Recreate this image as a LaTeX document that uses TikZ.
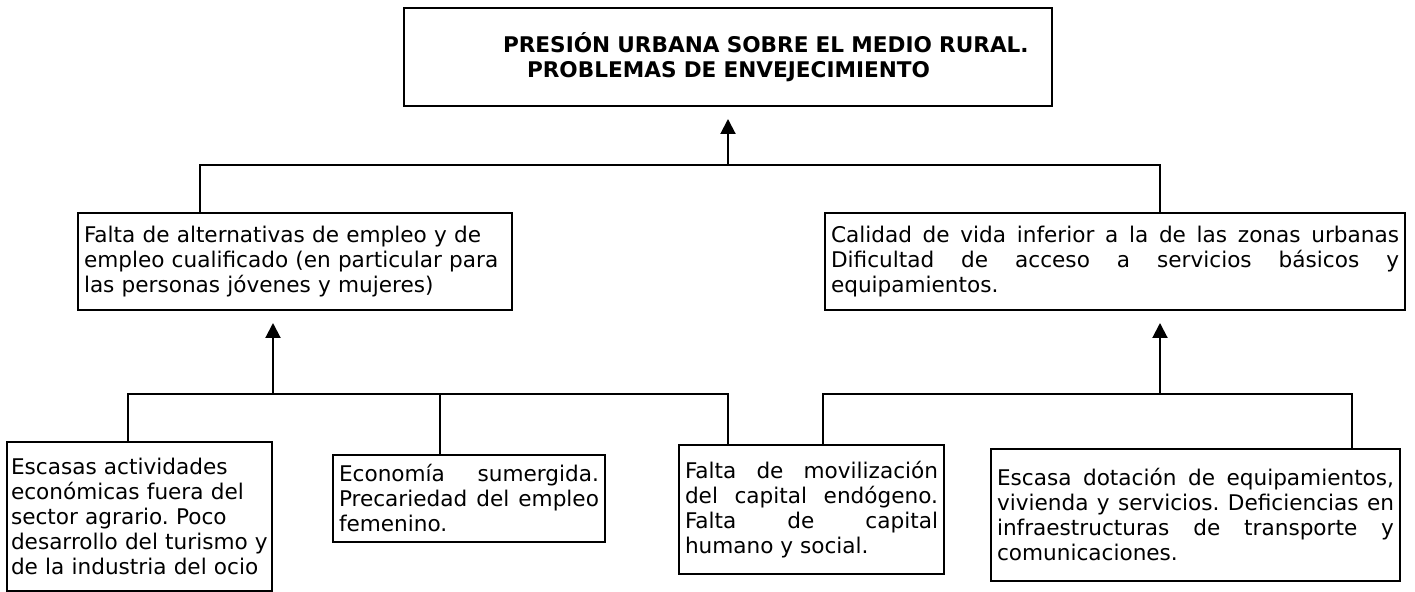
\documentclass[tikz,border=0pt]{standalone}
\usepackage{fontspec}
\setmainfont{DejaVu Sans}
\usetikzlibrary{arrows.meta}

\tikzset{
  caja/.style={draw, line width=1pt, inner xsep=3pt, inner ysep=2pt, font=\fontsize{10.8}{12.5}\selectfont\frenchspacing},
  linea/.style={line width=1pt},
  flecha/.style={line width=1pt, -{Triangle[length=7.5pt,width=7.5pt]}, shorten >=6pt}
}

\begin{document}
\begin{tikzpicture}[x=0.5pt, y=-0.5pt]
    % Parametri
    \pgfmathsetmacro{\yalto}{165}
    \pgfmathsetmacro{\ybajo}{394}
    % Marco
    \useasboundingbox (0,0) rectangle (1415,592);
    % Cajas
    \node[caja, minimum width=324pt, minimum height=49pt, text width=318pt, align=left, font=\fontsize{10.8}{12.5}\selectfont\bfseries] (titulo) at (728,57) {\hspace*{46.5pt}PRESIÓN URBANA SOBRE EL MEDIO RURAL.\\\hspace*{58.5pt}PROBLEMAS DE ENVEJECIMIENTO};
    \node[caja, text width=211pt, minimum height=48.5pt, align=left] (empleo) at (295,261.5) {Falta de alternativas de empleo y de\\empleo cualificado (en particular para\\las personas jóvenes y mujeres)};
    \node[caja, text width=284pt, minimum height=48.5pt, align=justify] (calidad) at (1115,261.5) {Calidad de vida inferior a la de las zonas urbanas\linebreak Dificultad de acceso a servicios básicos y\linebreak equipamientos.};
    \node[caja, inner xsep=2pt, text width=128.5pt, minimum height=74.5pt, align=left] (actividades) at (139.5,516.5) {Escasas actividades\\económicas fuera del\\sector agrario. Poco\\desarrollo del turismo y\\de la industria del ocio};
    \node[caja, text width=130pt, minimum height=43.5pt, align=justify] (sumergida) at (469,498.5) {Economía sumergida.\linebreak Precariedad del empleo\linebreak femenino.};
    \node[caja, text width=126.5pt, minimum height=64.5pt, align=justify] (capital) at (811.5,509.5) {Falta de movilización\linebreak del capital endógeno.\linebreak Falta de capital\linebreak humano y social.};
    \node[caja, text width=198.5pt, minimum height=66pt, align=justify] (dotacion) at (1195.5,515) {Escasa dotación de equipamientos,\linebreak vivienda y servicios. Deficiencias en\linebreak infraestructuras de transporte y\linebreak comunicaciones.};
    % Nudos
    \coordinate (nudoA) at (728,\yalto);
    \coordinate (nudoA1) at (200,\yalto);
    \coordinate (nudoA2) at (1160,\yalto);
    \coordinate (nudoB) at (273,\ybajo);
    \coordinate (nudoB1) at (128,\ybajo);
    \coordinate (nudoB2) at (440,\ybajo);
    \coordinate (nudoB3) at (728,\ybajo);
    \coordinate (nudoC) at (1160,\ybajo);
    \coordinate (nudoC1) at (823,\ybajo);
    \coordinate (nudoC2) at (1352,\ybajo);
    % Conectores
    \draw[linea] (empleo.north -| nudoA1) -- (nudoA1) -- (nudoA2) -- (calidad.north -| nudoA2);
    \draw[flecha] (nudoA) -- (titulo.south);
    \draw[linea] (actividades.north -| nudoB1) -- (nudoB1) -- (nudoB3) -- (capital.north -| nudoB3);
    \draw[linea] (nudoB2) -- (sumergida.north -| nudoB2);
    \draw[flecha] (nudoB) -- (empleo.south -| nudoB);
    \draw[linea] (capital.north -| nudoC1) -- (nudoC1) -- (nudoC2) -- (dotacion.north -| nudoC2);
    \draw[flecha] (nudoC) -- (calidad.south -| nudoC);
\end{tikzpicture}
\end{document}
